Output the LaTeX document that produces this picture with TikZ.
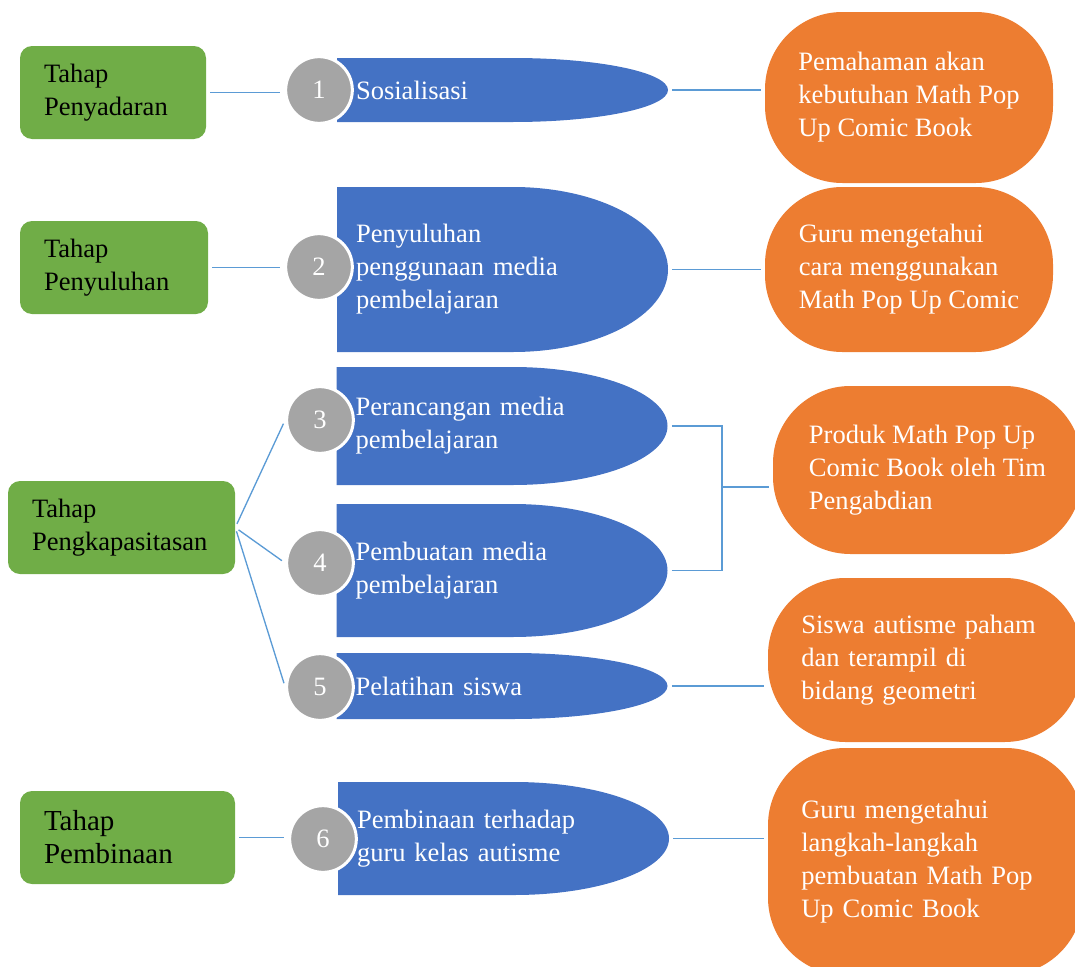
\documentclass[tikz,border=0pt]{standalone}
\usepackage{fontspec}
\setmainfont{Liberation Serif}
\usetikzlibrary{calc}
\definecolor{stagegreen}{RGB}{112,173,71}
\definecolor{actblue}{RGB}{68,114,196}
\definecolor{resorange}{RGB}{237,125,49}
\definecolor{badgegray}{RGB}{165,165,165}
\definecolor{linkblue}{RGB}{91,155,213}
\newcommand{\bodyfont}{\fontsize{19.9}{24.75}\selectfont}
\tikzstyle{stage} = [rectangle, rounded corners=9pt, fill=stagegreen, minimum height=69.75pt, inner xsep=18pt, align=left, font=\bodyfont]
\tikzstyle{badge} = [circle, fill=badgegray, draw=white, line width=2.25pt, minimum size=50pt, inner sep=0pt, text=white, font=\bodyfont]
\tikzstyle{activity} = [rectangle, minimum width=248.25pt, inner xsep=14.25pt, inner ysep=2pt, text width=219.75pt, align=left, text=white, font=\bodyfont,
    path picture={\fill[actblue] let \p1=(path picture bounding box.north east), \p2=(path picture bounding box.south west) in
        (\x2,\y1) -- (\x1-116.25pt,\y1) arc[start angle=90, end angle=-90, x radius=116.25pt, y radius={(\y1-\y2)/2}] -- (\x2,\y2) -- cycle;}]
\tikzstyle{result} = [rectangle, rounded corners=58pt, fill=resorange, align=left, text=white, font=\bodyfont]
\tikzstyle{link} = [draw=linkblue, line width=1pt, shorten <=3pt, shorten >=3pt]

\begin{document}
\begin{tikzpicture}[x=0.75pt, y=-0.75pt]
    \useasboundingbox (0,0) rectangle (1075,967);
    \clip (0,0) rectangle (1075,967);

        \node (penyadaran) [stage, text width=103.5pt] at (113,92.5) {Tahap\\Penyadaran};
        \node (penyuluhan) [stage, text width=105pt] at (114,267.5) {Tahap\\Penyuluhan};
        \node (pengkapasitasan) [stage, text width=134.25pt] at (121.5,527.5) {Tahap\\Pengkapasitasan};
        \node (pembinaan) [stage, text width=125.25pt, font=\fontsize{21.75}{24.75}\selectfont] at (127.5,837.5) {Tahap\\Pembinaan};

        \node (act1) [activity, minimum height=48pt] at (502.5,90) {Sosialisasi};
        \node (act2) [activity, minimum height=123.75pt] at (502.5,269.5) {Penyuluhan\\penggunaan media\\pembelajaran};
        \node (act3) [activity, minimum height=88.5pt] at (502,426) {Perancangan media\\pembelajaran};
        \node (act4) [activity, minimum height=99.75pt] at (502,570.5) {Pembuatan media\\pembelajaran};
        \node (act5) [activity, minimum height=49.5pt] at (502,686) {Pelatihan siswa};
        \node (act6) [activity, minimum height=84.75pt] at (503.5,838.5) {Pembinaan terhadap\\guru kelas autisme};

        \node (n1) [badge] at (319,90) {1};
        \node (n2) [badge] at (319,267) {2};
        \node (n3) [badge] at (320,420) {3};
        \node (n4) [badge] at (320,563) {4};
        \node (n5) [badge] at (320,687) {5};
        \node (n6) [badge] at (323,839) {6};

        \node (res1) [result, minimum width=216pt, minimum height=128.25pt] at (909,97.5) {Pemahaman akan\\kebutuhan Math Pop\\Up Comic Book};
        \node (res2) [result, minimum width=216pt, minimum height=123.75pt] at (909,269.5) {Guru mengetahui\\cara menggunakan\\Math Pop Up Comic};
        \node (res3) [result, minimum width=231.75pt, minimum height=126pt] at (927.5,470) {Produk Math Pop Up\\Comic Book oleh Tim\\Pengabdian};
        \node (res4) [result, inner xsep=25pt, text width=185.5pt, minimum height=123pt] at (925,660) {Siswa autisme paham\\dan terampil di\\bidang geometri};
        \node (res5) [result, inner xsep=25pt, text width=186.25pt, minimum height=170.25pt] at (925.5,861.5) {Guru mengetahui\\langkah-langkah\\pembuatan Math Pop\\Up Comic Book};

        \coordinate (merge) at (722,487);

        \draw [link] (penyadaran.east) -- (penyadaran.east -| n1.west);
        \draw [link] (act1.east) -- (act1.east -| res1.west);
        \draw [link] (penyuluhan.east) -- (penyuluhan.east -| n2.west);
        \draw [link] (act2.east) -- (act2.east -| res2.west);
        \draw [link] (pengkapasitasan.east) -- (n3.west);
        \draw [link] (pengkapasitasan.east) -- (n4.west);
        \draw [link] (pengkapasitasan.east) -- (n5.west);
        \draw [link, shorten >=0pt] (act3.east) -| (merge);
        \draw [link, shorten >=0pt] (act4.east) -| (merge);
        \draw [link, shorten <=0pt] (merge) -- (merge -| res3.west);
        \draw [link] (act5.east) -- (act5.east -| res4.west);
        \draw [link] (pembinaan.east) -- (pembinaan.east -| n6.west);
        \draw [link] (act6.east) -- (act6.east -| res5.west);

    \end{tikzpicture}
\end{document}
